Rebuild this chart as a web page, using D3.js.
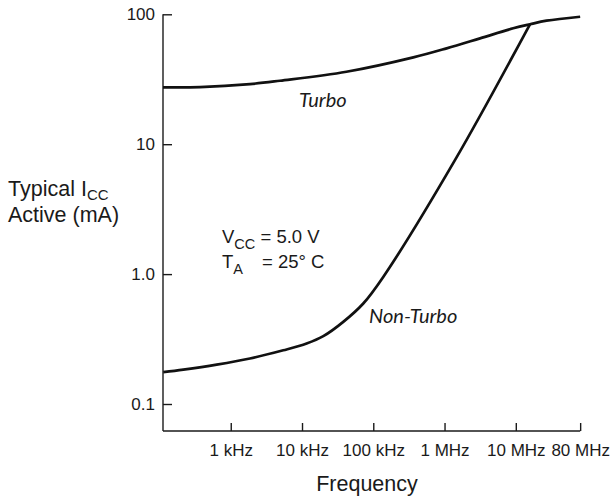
<!DOCTYPE html>
<html>
<head>
<meta charset="utf-8">
<script src="https://cdn.jsdelivr.net/npm/d3@7"></script>
<style>
  html, body { margin: 0; padding: 0; background: #fff; }
  svg { display: block; }
  text { font-family: "Liberation Sans", Arial, Helvetica, sans-serif; fill: #1a1a1a; }
  .lbl { font-family: "Lato", "Liberation Sans Narrow", sans-serif; font-style: italic; }
</style>
</head>
<body>
<svg id="chart" width="613" height="496"></svg>
<script>
// ---- data ----
const freqTicks = [1e3, 1e4, 1e5, 1e6, 1e7, 8e7];
const freqTickLabels = ["1 kHz", "10 kHz", "100 kHz", "1 MHz", "10 MHz", "80 MHz"];
const iccTicks = [0.1, 1, 10, 100];
const iccTickLabels = ["0.1", "1.0", "10", "100"];

// Turbo mode: frequency (Hz) vs typical Icc (mA)
const turboFreq = [112, 370, 1860, 4900, 42000, 365000, 1.07e6, 3.15e6, 9.2e6, 15.8e6, 27e6, 80e6];
const turboIcc  = [27.4, 27.5, 29.0, 30.8, 36.1, 46.6, 54.7, 65.3, 78.0, 83.8, 89.3, 95.8];

// Non-Turbo mode
const nonTurboFreq = [113, 216, 635, 1860, 5460, 11600, 19900, 37900, 72400, 138000, 1.4e6, 15.8e6];
const nonTurboIcc  = [0.176, 0.184, 0.201, 0.224, 0.259, 0.292, 0.333, 0.429, 0.594, 0.951, 7.54, 83.8];

// ---- layout ----
const svg = d3.select("#chart");
const axisLeftX = 163, axisBottomY = 431;

const x = d3.scaleLog().domain([1e3, 1e7]).range([230.75, 515.8]);
const y = d3.scaleLog().domain([0.1, 100]).range([404, 14.3]);

const lastX = x(freqTicks[freqTicks.length - 1]);

// axis lines
svg.append("line")
  .attr("x1", axisLeftX).attr("x2", axisLeftX)
  .attr("y1", y(100)).attr("y2", axisBottomY)
  .attr("stroke", "#1a1a1a").attr("stroke-width", 1.4);
svg.append("line")
  .attr("x1", axisLeftX).attr("x2", lastX)
  .attr("y1", axisBottomY).attr("y2", axisBottomY)
  .attr("stroke", "#1a1a1a").attr("stroke-width", 1.4);

// y axis ticks (inward)
const yAxis = d3.axisLeft(y)
  .tickValues(iccTicks)
  .tickFormat((d, i) => iccTickLabels[i])
  .tickSize(-9).tickSizeOuter(0).tickPadding(8);
const gy = svg.append("g").attr("transform", `translate(${axisLeftX},0)`).call(yAxis);
gy.select(".domain").remove();
gy.selectAll(".tick line").attr("stroke", "#1a1a1a").attr("stroke-width", 1.4);
gy.selectAll(".tick text").attr("font-size", 17).attr("font-family", "Liberation Sans, Arial, sans-serif").attr("fill", "#1a1a1a");

// x axis ticks (inward)
const xAxis = d3.axisBottom(x)
  .tickValues(freqTicks)
  .tickFormat((d, i) => freqTickLabels[i])
  .tickSize(-8).tickSizeOuter(0).tickPadding(13);
const gx = svg.append("g").attr("transform", `translate(0,${axisBottomY})`).call(xAxis);
gx.select(".domain").remove();
gx.selectAll(".tick line").attr("stroke", "#1a1a1a").attr("stroke-width", 1.4);
gx.selectAll(".tick text").attr("font-size", 17).attr("font-family", "Liberation Sans, Arial, sans-serif").attr("fill", "#1a1a1a");

// curves
const line = d3.line()
  .x(d => x(d[0]))
  .y(d => y(d[1]))
  .curve(d3.curveCatmullRom.alpha(0.5));

svg.append("path")
  .datum(d3.zip(turboFreq, turboIcc))
  .attr("d", line)
  .attr("fill", "none").attr("stroke", "#111").attr("stroke-width", 2.7);

svg.append("path")
  .datum(d3.zip(nonTurboFreq, nonTurboIcc))
  .attr("d", line)
  .attr("fill", "none").attr("stroke", "#111").attr("stroke-width", 2.7);

// curve labels
svg.append("text").attr("class", "lbl").attr("x", 299).attr("y", 106.5)
  .attr("font-size", 20).text("Turbo");
svg.append("text").attr("class", "lbl").attr("x", 369).attr("y", 323)
  .attr("font-size", 20).text("Non-Turbo");

// conditions
const c1 = svg.append("text").attr("x", 222).attr("y", 243).attr("font-size", 18.5);
c1.append("tspan").text("V");
c1.append("tspan").attr("font-size", 14.5).attr("dy", 6).text("CC");
c1.append("tspan").attr("dy", -6).text(" = 5.0 V");

const c2 = svg.append("text").attr("x", 222).attr("y", 268).attr("font-size", 18.5);
c2.append("tspan").text("T");
c2.append("tspan").attr("font-size", 14.5).attr("dy", 6).text("A");
c2.append("tspan").attr("dy", -6).attr("x", 262).text("= 25° C");

// y axis title
const t1 = svg.append("text").attr("x", 8).attr("y", 196).attr("font-size", 21.5);
t1.append("tspan").text("Typical I");
t1.append("tspan").attr("font-size", 15).attr("dy", 4).text("CC");
svg.append("text").attr("x", 8).attr("y", 222).attr("font-size", 21.5).text("Active (mA)");

// x axis title
svg.append("text").attr("x", 367).attr("y", 491).attr("text-anchor", "middle")
  .attr("font-size", 21.5).text("Frequency");
</script>
</body>
</html>
